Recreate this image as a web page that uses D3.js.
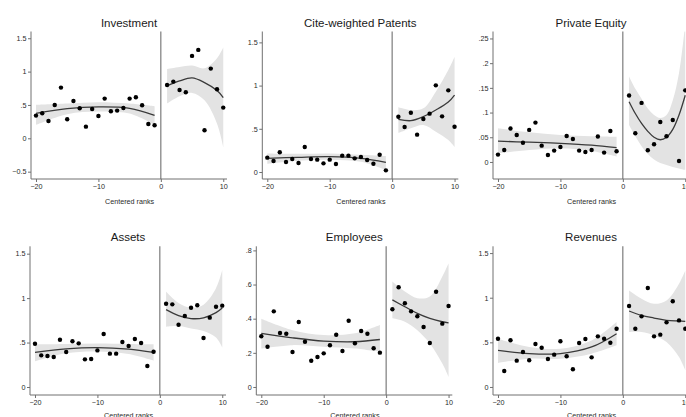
<!DOCTYPE html>
<html lang="en">
<head>
<meta charset="UTF-8">
<title>Centered ranks</title>
<script src="https://d3js.org/d3.v7.min.js"></script>
<style>
body { margin: 0; background: white; }
svg { display: block; }
text { font-family: "Liberation Sans", Arial, Helvetica, sans-serif; }
.title { font-size: 11.5px; fill: #1a1a1a; }
.tick text { font-size: 7.2px; fill: #2a2a2a; }
.xlab { font-size: 7.2px; fill: #2a2a2a; }
</style>
</head>
<body>
<div id="chart"></div>
<script>
// ranks on each side of the cutoff
var ranksLeft = [-20,-19,-18,-17,-16,-15,-14,-13,-12,-11,-10,-9,-8,-7,-6,-5,-4,-3,-2,-1];
var ranksRight = [1,2,3,4,5,6,7,8,9,10];
var fitGridLeft = [-20,-15,-10,-5,-1];
var fitGridRight = [1,3,5,7,9,10];
var fitGridFine = [1,2,3,4,5,6,7,8,9,10];

// Investment
var investL = [0.34,0.375,0.26,0.5,0.76,0.285,0.56,0.45,0.175,0.44,0.335,0.595,0.405,0.415,0.455,0.595,0.615,0.495,0.215,0.195];
var investR = [0.8,0.85,0.725,0.69,1.235,1.325,0.12,1.045,0.735,0.46];
var investFitL = [0.375,0.445,0.47,0.45,0.345];
var investLoL = [0.2,0.36,0.4,0.37,0.2];
var investHiL = [0.5,0.52,0.54,0.52,0.48];
var investFitR = [0.785,0.86,0.905,0.835,0.715,0.61];
var investLoR = [0.52,0.63,0.68,0.57,0.22,-0.13];
var investHiR = [1.04,1.07,1.09,1.05,1.2,1.36];

// Cite-weighted Patents
var patentL = [0.166,0.127,0.228,0.116,0.15,0.104,0.289,0.15,0.143,0.1,0.143,0.093,0.189,0.189,0.158,0.174,0.139,0.096,0.2,0.019];
var patentR = [0.64,0.52,0.686,0.432,0.613,0.675,1.003,0.644,0.945,0.524];
var patentFitL = [0.158,0.17,0.177,0.158,0.112];
var patentLoL = [0.095,0.13,0.14,0.12,0.025];
var patentHiL = [0.215,0.21,0.215,0.2,0.185];
var patentFitR = [0.61,0.594,0.64,0.717,0.81,0.89];
var patentLoR = [0.45,0.505,0.544,0.467,0.37,0.29];
var patentHiR = [0.75,0.717,0.737,0.93,1.18,1.33];

// Private Equity
var equityL = [0.0149,0.0243,0.0676,0.0547,0.039,0.0649,0.0797,0.033,0.0142,0.023,0.0304,0.0527,0.0466,0.023,0.0203,0.0243,0.0514,0.0189,0.0628,0.0216];
var equityR = [0.1345,0.058,0.1196,0.0236,0.0358,0.081,0.052,0.085,0.002,0.145];
var equityFitL = [0.042,0.04,0.0377,0.034,0.029];
var equityLoL = [0.0175,0.024,0.0276,0.022,0.011];
var equityHiL = [0.068,0.06,0.0545,0.052,0.051];
var equityFitR = [0.122,0.098,0.078,0.062,0.05,0.045,0.05,0.066,0.095,0.135];
var equityLoR = [0.075,0.052,0.032,0.016,0.005,-0.002,-0.006,-0.01,-0.013,-0.016];
var equityHiR = [0.173,0.148,0.128,0.108,0.095,0.089,0.095,0.125,0.18,0.28];

// Assets
var assetL = [0.487,0.356,0.349,0.337,0.532,0.394,0.514,0.491,0.311,0.315,0.412,0.596,0.375,0.375,0.506,0.461,0.54,0.495,0.236,0.397];
var assetR = [0.937,0.93,0.701,0.799,0.892,0.919,0.551,0.78,0.903,0.915];
var assetFitL = [0.389,0.43,0.444,0.426,0.389];
var assetLoL = [0.29,0.38,0.4,0.37,0.296];
var assetHiL = [0.48,0.485,0.49,0.485,0.48];
var assetFitR = [0.87,0.804,0.77,0.778,0.837,0.889];
var assetLoR = [0.678,0.685,0.659,0.63,0.556,0.444];
var assetHiR = [1.074,0.944,0.889,0.926,1.11,1.315];

// Employees
var emplL = [0.297,0.236,0.443,0.316,0.312,0.205,0.381,0.265,0.154,0.176,0.197,0.244,0.306,0.211,0.388,0.256,0.328,0.312,0.227,0.201];
var emplR = [0.455,0.584,0.49,0.443,0.414,0.351,0.258,0.558,0.371,0.474];
var emplFitL = [0.314,0.288,0.269,0.265,0.278];
var emplLoL = [0.225,0.245,0.235,0.225,0.206];
var emplHiL = [0.4,0.333,0.304,0.314,0.363];
var emplFitR = [0.51,0.47,0.431,0.402,0.382,0.376];
var emplLoR = [0.402,0.382,0.333,0.255,0.137,0.059];
var emplHiR = [0.618,0.559,0.52,0.53,0.647,0.725];

// Revenues
var revL = [0.541,0.179,0.523,0.295,0.392,0.299,0.481,0.44,0.314,0.362,0.512,0.344,0.198,0.493,0.538,0.332,0.567,0.541,0.496,0.653];
var revR = [0.907,0.653,0.791,1.109,0.567,0.586,0.724,0.96,0.746,0.653];
var revFitL = [0.41,0.373,0.373,0.448,0.597];
var revLoL = [0.269,0.317,0.317,0.373,0.466];
var revHiL = [0.541,0.448,0.429,0.522,0.728];
var revFitR = [0.851,0.802,0.772,0.746,0.739,0.735];
var revLoR = [0.616,0.616,0.578,0.504,0.336,0.187];
var revHiR = [1.082,0.989,0.933,0.97,1.157,1.306];

var xTicks = [-20,-10,0,10];

var panels = [
  {title: "Investment", ax: 31, row: 0, dom: [-0.61,1.601], ticks: [-0.5,0,0.5,1,1.5],
   yl: investL, yr: investR, gr: fitGridRight,
   fl: investFitL, lol: investLoL, hil: investHiL, fr: investFitR, lor: investLoR, hir: investHiR},
  {title: "Cite-weighted Patents", ax: 262.3, row: 0, dom: [-0.081,1.626], ticks: [0,0.5,1,1.5],
   yl: patentL, yr: patentR, gr: fitGridRight,
   fl: patentFitL, lol: patentLoL, hil: patentHiL, fr: patentFitR, lor: patentLoR, hir: patentHiR},
  {title: "Private Equity", ax: 493, row: 0, dom: [-0.0345,0.2641], ticks: [0,0.05,0.1,0.15,0.2,0.25],
   yl: equityL, yr: equityR, gr: fitGridFine,
   fl: equityFitL, lol: equityLoL, hil: equityHiL, fr: equityFitR, lor: equityLoR, hir: equityHiR},
  {title: "Assets", ax: 30, row: 1, dom: [-0.09,1.583], ticks: [0,0.5,1,1.5],
   yl: assetL, yr: assetR, gr: fitGridRight,
   fl: assetFitL, lol: assetLoL, hil: assetHiL, fr: assetFitR, lor: assetLoR, hir: assetHiR},
  {title: "Employees", ax: 256.3, row: 1, dom: [-0.047,0.824], ticks: [0,0.2,0.4,0.6,0.8],
   yl: emplL, yr: emplR, gr: fitGridRight,
   fl: emplFitL, lol: emplLoL, hil: emplHiL, fr: emplFitR, lor: emplLoR, hir: emplHiR},
  {title: "Revenues", ax: 493, row: 1, dom: [-0.09,1.576], ticks: [0,0.5,1,1.5],
   yl: revL, yr: revR, gr: fitGridRight,
   fl: revFitL, lol: revLoL, hil: revHiL, fr: revFitR, lor: revLoR, hir: revHiR}
];

var rows = [{top: 31.5, bottom: 179, title: 27, lab: 203.5}, {top: 246.3, bottom: 395, title: 241.3, lab: 418}];
var plotW = 196;

var svg = d3.select("#chart").append("svg")
    .attr("width", 686)
    .attr("height", 417);

// stata-style number labels: .5 instead of 0.5
function fmt(v) {
  var s = d3.format("~g")(v);
  return s.replace(/^0\./, ".").replace(/^-0\./, "-.");
}

panels.forEach(function(p, i) {
  var r = rows[p.row];
  var x = d3.scaleLinear().domain([-20.8, 10.6]).range([p.ax, p.ax + plotW]);
  var y = d3.scaleLinear().domain(p.dom).range([r.bottom, r.top]);
  var g = svg.append("g");

  g.append("clipPath").attr("id", "clip" + i)
    .append("rect")
    .attr("x", p.ax).attr("y", r.top)
    .attr("width", plotW).attr("height", r.bottom - r.top);

  var plot = g.append("g").attr("clip-path", "url(#clip" + i + ")");

  var area = d3.area()
      .x(function(d) { return x(d[0]); })
      .y0(function(d) { return y(d[1]); })
      .y1(function(d) { return y(d[2]); })
      .curve(d3.curveCatmullRom);
  var line = d3.line()
      .x(function(d) { return x(d[0]); })
      .y(function(d) { return y(d[1]); })
      .curve(d3.curveCatmullRom);

  var sides = [
    {grid: fitGridLeft, fit: p.fl, lo: p.lol, hi: p.hil},
    {grid: p.gr, fit: p.fr, lo: p.lor, hi: p.hir}
  ];
  sides.forEach(function(s) {
    var band = s.grid.map(function(v, k) { return [v, s.lo[k], s.hi[k]]; });
    plot.append("path").datum(band)
      .attr("d", area)
      .attr("fill", "#e3e3e3");
  });

  // cutoff line
  g.append("line")
    .attr("x1", x(0)).attr("x2", x(0))
    .attr("y1", r.top).attr("y2", r.bottom)
    .attr("stroke", "#707070").attr("stroke-width", 1.1);

  sides.forEach(function(s) {
    var fit = s.grid.map(function(v, k) { return [v, s.fit[k]]; });
    plot.append("path").datum(fit)
      .attr("d", line)
      .attr("fill", "none")
      .attr("stroke", "#3a3a3a")
      .attr("stroke-width", 1.3);
  });

  var pts = ranksLeft.map(function(v, k) { return [v, p.yl[k]]; })
    .concat(ranksRight.map(function(v, k) { return [v, p.yr[k]]; }));
  plot.selectAll("circle.pt").data(pts).enter().append("circle")
    .attr("class", "pt")
    .attr("cx", function(d) { return x(d[0]); })
    .attr("cy", function(d) { return y(d[1]); })
    .attr("r", 2.2)
    .attr("fill", "#000");

  // axes
  var yAxis = d3.axisLeft(y).tickValues(p.ticks).tickSize(3).tickPadding(1.5).tickFormat(fmt);
  var ya = g.append("g").attr("transform", "translate(" + p.ax + ",0)").call(yAxis);
  ya.select(".domain").attr("d", "M0," + r.top + "V" + r.bottom);

  var xAxis = d3.axisBottom(x).tickValues(xTicks).tickSize(3).tickPadding(2).tickFormat(d3.format("d"));
  var xa = g.append("g").attr("transform", "translate(0," + r.bottom + ")").call(xAxis);
  xa.select(".domain").attr("d", "M" + p.ax + ",0H" + (p.ax + plotW));

  g.selectAll(".domain").attr("stroke", "#707070");
  g.selectAll(".tick line").attr("stroke", "#707070");
  g.selectAll(".tick text").attr("fill", "#2a2a2a");

  g.append("text").attr("class", "title")
    .attr("x", p.ax + plotW / 2).attr("y", r.title)
    .attr("text-anchor", "middle")
    .attr("fill", "#1a1a1a")
    .text(p.title);

  g.append("text").attr("class", "xlab")
    .attr("x", x(-5)).attr("y", r.lab)
    .attr("text-anchor", "middle")
    .attr("fill", "#2a2a2a")
    .text("Centered ranks");
});
</script>
</body>
</html>
